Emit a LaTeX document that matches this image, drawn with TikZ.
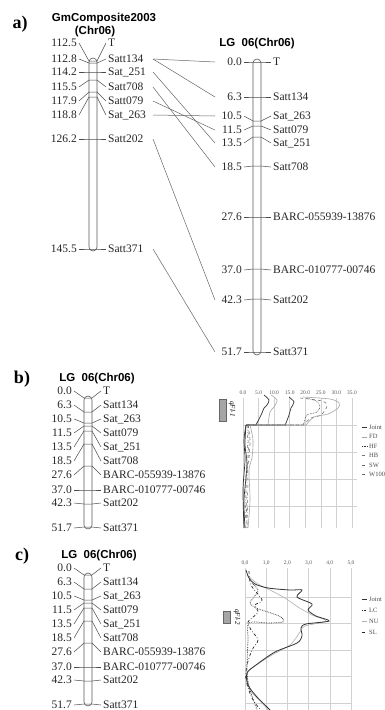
\documentclass[tikz,border=0pt]{standalone}
\usepackage{fontspec}
\setmainfont{Liberation Serif}
\setsansfont{Liberation Sans}
\usepackage{tikz}

\begin{document}
\begin{tikzpicture}[x=1pt, y=-1pt,
  num/.style={font=\fontsize{11.5}{12}\selectfont, anchor=east, inner sep=0pt, text=black!85},
  mrk/.style={font=\fontsize{11.5}{12}\selectfont, anchor=west, inner sep=0pt, text=black!85},
  ttl/.style={font=\sffamily\bfseries\fontsize{11.5}{12}\selectfont},
  pnl/.style={font=\bfseries\fontsize{18}{18}\selectfont},
  chrom/.style={draw=black!65, line width=0.6pt, rounded corners=4pt},
  tick/.style={draw=black!70, line width=0.5pt},
  link/.style={draw=black!60, line width=0.5pt},
  grd/.style={draw=black!18, line width=0.5pt},
  axl/.style={font=\fontsize{5.5}{6}\selectfont, text=black!65, inner sep=0pt},
  lgd/.style={font=\fontsize{6.5}{6.5}\selectfont, text=black!70, anchor=west, inner sep=0pt},
  qbox/.style={fill=black!35, draw=black!60, line width=0.4pt},
  qlab/.style={font=\itshape\fontsize{7}{7}\selectfont, rotate=-90, inner sep=0pt},
  sJoint/.style={black!80, line width=0.7pt},
  sFD/.style={black!35, line width=0.6pt},
  sHF/.style={black!80, line width=0.6pt, densely dotted},
  sHB/.style={black!55, line width=0.6pt, dashed},
  sSW/.style={black!60, line width=0.5pt, dash dot},
  sWten/.style={black!60, line width=0.5pt, dash dot dot},
  sLC/.style={black!85, line width=0.7pt, densely dotted},
  sNU/.style={black!30, line width=0.6pt},
  sSL/.style={black!85, line width=0.7pt, dash dot},
  ]
  \useasboundingbox (0,0) rectangle (384,710);
  \fill[white] (0,0) rectangle (384,710);

  % a) consensus map
  \node[pnl] (pa) at (20,24) {a)};
  \node[ttl] (aT1) at (104,19) {GmComposite2003};
  \node[ttl] (aT2) at (95,32) {(Chr06)};
  \draw[chrom] (89,58) rectangle (97,251);
  \foreach \i/\ly/\py/\cm/\mk in {1/43/61/112.5/T, 2/59/63/112.8/Satt134,
      3/72/72/114.2/Sat\_251, 4/87/80/115.5/Satt708, 5/101/92/117.9/Satt079,
      6/115/97/118.8/Sat\_263, 7/139/139/126.2/Satt202, 8/249/249/145.5/Satt371} {
    \node[num] (aLv\i) at (77,\ly) {\cm};
    \node[mrk] (aLm\i) at (108,\ly) {\mk};
    \draw[tick] ([xshift=2pt]aLv\i.east) -- (89,\py) -- (97,\py) -- ([xshift=-2pt]aLm\i.west);
  }

  % a) our map
  \node[ttl] (aT3) at (257,44) {LG\ \ 06(Chr06)};
  \draw[chrom] (253,59) rectangle (261,355);
  \foreach \i/\ly/\py/\cm/\mk in {1/62/62/0.0/T, 2/97/97/6.3/Satt134,
      3/116/121/10.5/Sat\_263, 4/130/126/11.5/Satt079, 5/143/137/13.5/Sat\_251,
      6/167/166/18.5/Satt708, 7/217/217/27.6/BARC-055939-13876,
      8/270/269/37.0/BARC-010777-00746, 9/300/299/42.3/Satt202, 10/352/352/51.7/Satt371} {
    \node[num] (aRv\i) at (242,\ly) {\cm};
    \node[mrk] (aRm\i) at (273,\ly) {\mk};
    \draw[tick] ([xshift=2pt]aRv\i.east) -- (253,\py) -- (261,\py) -- ([xshift=-2pt]aRm\i.west);
  }

  % links between the two maps
  \coordinate (lkL) at (153,0);
  \coordinate (lkR) at (215,0);
  \foreach \l/\r in {2/1, 2/2, 3/5, 4/6, 5/4, 6/3, 7/9, 8/10}
    \draw[link] (aLm\l.west -| lkL) -- (aRv\r.east -| lkR);

  % b) and c) maps
  \node[pnl] (pb) at (22,379) {b)};
  \node[ttl] (bT) at (97,379) {LG\ \ 06(Chr06)};
  \node[pnl] (pc) at (22,556) {c)};
  \node[ttl] (cT) at (99,556) {LG\ \ 06(Chr06)};
  \foreach \p/\top/\s in {b/396/1, c/573/1.0} {
    \draw[chrom] (84,\top) rectangle (92,{\top+133*\s});
    \foreach \i/\lo/\po/\cm/\mk in {1/-5/2/0.0/T, 2/9/16/6.3/Satt134, 3/23/27/10.5/Sat\_263,
        4/37/30/11.5/Satt079, 5/51/35/13.5/Sat\_251, 6/65/48/18.5/Satt708,
        7/79/70/27.6/BARC-055939-13876, 8/94/94/37.0/BARC-010777-00746,
        9/107/108/42.3/Satt202, 10/132/131/51.7/Satt371} {
      \node[num] (v\p\i) at (72,{\top+(\lo)*\s}) {\cm};
      \node[mrk] (m\p\i) at (103,{\top+(\lo)*\s}) {\mk};
      \draw[tick] ([xshift=2pt]v\p\i.east) -- (84,{\top+(\po)*\s}) -- (92,{\top+(\po)*\s}) -- ([xshift=-2pt]m\p\i.west);
    }
  }

  % b) LOD profiles
  \foreach \k/\v in {0/0.0, 1/5.0, 2/10.0, 3/15.0, 4/20.0, 5/25.0, 6/30.0, 7/35.0} {
    \draw[grd] ({243+15.57*\k},398) -- ({243+15.57*\k},528);
    \node[axl] (bx\k) at ({243+15.57*\k},393) {\v};
  }
  \foreach \yy in {425,452,479,506} \draw[grd] (243,\yy) -- (357,\yy);
  \draw[qbox] (219,399) rectangle (226,421);
  \node[qlab] (bq) at (232,409) {qFl-1};
  \draw[sJoint] plot[smooth] coordinates {(264,395) (269,400) (267,405) (264,408) (262,413) (257,423) (256,425)} -- (246,425)
    plot[smooth] coordinates {(246,425) (244,440) (245,460) (243,490) (244,528)};
  \draw[sFD] plot[smooth] coordinates {(271,395) (277,400) (274,407) (270,412) (268,425)};
  \draw[sJoint] plot[smooth] coordinates {(289,397) (294,402) (291,408) (289,415) (286,423) (285,425)} -- (246,425)
    plot[smooth] coordinates {(246,425) (245,445) (247,465) (244,500) (245,528)};
  \draw[sHF] plot[smooth] coordinates {(306,398) (316,401) (320,406) (317,412) (307,415) (304,423) (303,425)} -- (247,425);
  \draw[sHB] plot[smooth] coordinates {(300,398) (322,401) (327,406) (321,415) (311,418) (303,425)} -- (248,425)
    plot[smooth] coordinates {(248,425) (250,440) (249,458) (246,480) (247,528)};
  \draw[sFD] plot[smooth] coordinates {(303,397) (330,399) (339,403) (338,408) (328,414) (314,417) (306,425)} -- (250,425)
    plot[smooth] coordinates {(250,425) (253,440) (252,458) (249,470) (250,500) (248,528)};
  \draw[sSW] (248,425) .. controls (251,445) and (246,460) .. (248,480) -- (247,528);
  \draw[sWten] (247,425) .. controls (249,440) and (245,470) .. (246,490) -- (245,528);
  % b) legend
  \foreach \i/\t/\sty in {1/Joint/sJoint, 2/FD/sFD, 3/HF/sHF, 4/HB/sHB, 5/SW/sSW, 6/W100/sWten} {
    \node[lgd] (bl\i) at (369,{418+9.4*\i}) {\t};
    \draw[\sty] ([xshift=-7pt]bl\i.west) -- ([xshift=-2pt]bl\i.west);
  }

  % c) LOD profiles
  \foreach \k/\v in {0/{0,0}, 1/{1,0}, 2/{2,0}, 3/{3,0}, 4/{4,0}, 5/{5,0}} {
    \draw[grd] ({245+21.2*\k},568) -- ({245+21.2*\k},710);
    \node[axl] (cx\k) at ({245+21.2*\k},563) {\v};
  }
  \foreach \yy in {597,623,650,676,703} \draw[grd] (245,\yy) -- (351,\yy);
  \draw[qbox] (223,611) rectangle (230,623);
  \node[qlab] (cq) at (237,617) {qFl-2};
  \draw[sNU] plot[smooth] coordinates {(247,575) (258,584) (270,590) (285,598) (298,607) (312,615) (326,621) (305,626) (300,632) (290,645) (272,655) (252,668) (247,675) (250,690) (262,703) (270,712)};
  \draw[sJoint, line width=0.8pt] plot[smooth] coordinates {(246,570) (249,578) (255,584) (268,588) (290,590) (302,590) (297,597) (312,604) (308,610) (316,616) (329,621) (306,624) (301,628) (302,636) (297,643) (275,652) (256,665) (247,673) (248,685) (257,697) (268,708) (272,712)};
  \draw[sLC] plot[smooth] coordinates {(252,583) (258,590) (254,597) (250,603) (256,608) (268,612) (281,617) (283,622) (268,623) (249,623) (248,640) (247,672) (250,690) (258,712)};
  \draw[sSL] plot[smooth] coordinates {(249,571) (251,585) (262,600) (255,605) (258,612) (252,618) (248,622) (251,630) (258,640) (252,650) (247,665) (246,680) (252,698) (262,712)};
  % c) legend
  \foreach \i/\t/\sty in {1/Joint/sJoint, 2/LC/sLC, 3/NU/sNU, 4/SL/sSL} {
    \node[lgd] (cl\i) at (369,{589+10.8*\i}) {\t};
    \draw[\sty] ([xshift=-7pt]cl\i.west) -- ([xshift=-2pt]cl\i.west);
  }
\end{tikzpicture}
\end{document}
